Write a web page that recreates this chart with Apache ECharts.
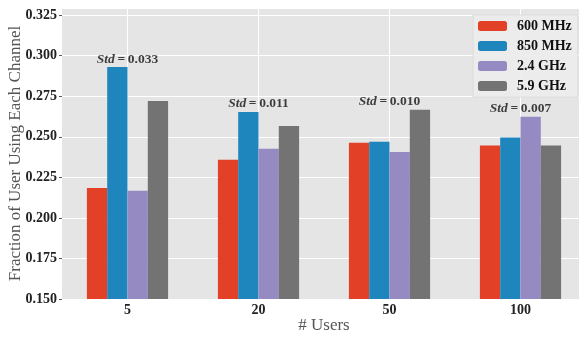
<!DOCTYPE html>
<html>
<head>
<meta charset="utf-8">
<script src="https://cdn.jsdelivr.net/npm/echarts@6/dist/echarts.min.js"></script>
<style>html,body{margin:0;padding:0;background:#fff}#c{width:579px;height:337px}</style>
</head>
<body>
<div id="c"></div>
<script>
var categories = ['5', '20', '50', '100'];
var seriesNames = ['600 MHz', '850 MHz', '2.4 GHz', '5.9 GHz'];
var s600 = [0.2185, 0.2358, 0.2464, 0.2446];
var s850 = [0.2930, 0.2653, 0.2470, 0.2495];
var s24 = [0.2167, 0.2426, 0.2407, 0.2624];
var s59 = [0.2721, 0.2567, 0.2666, 0.2446];
var stdValues = ['0.033', '0.011', '0.010', '0.007'];
var yTicksMin = 0.15, yTickStep = 0.025, yMax = 0.3294;

var colors = ['#E24027', '#1F86BD', '#968AC3', '#737373'];
var allSeries = [s600, s850, s24, s59];
var maxPerCat = categories.map(function (c, i) {
  return Math.max(s600[i], s850[i], s24[i], s59[i]);
});
var helperCats = [];
for (var k = 0; k <= categories.length * 2; k++) helperCats.push('h' + k);

var FONT = 'Liberation Serif';
var chart = echarts.init(document.getElementById('c'), null, {renderer: 'canvas'});
var series = allSeries.map(function (arr, i) {
  return {
    name: seriesNames[i], type: 'bar', data: arr, xAxisIndex: 0,
    barWidth: 20.3, barGap: '0%', itemStyle: {color: colors[i]}, z: 3
  };
});
series.push({
  type: 'scatter', xAxisIndex: 0, symbolSize: 0, silent: true, z: 5,
  data: maxPerCat.map(function (v, i) { return [categories[i], v]; }),
  label: {
    show: true, position: 'top', distance: 1,
    formatter: function (p) { return '{i|Std}{b|\u2009=\u2009' + stdValues[p.dataIndex] + '}'; },
    rich: {
      i: {fontFamily: FONT, fontStyle: 'italic', fontWeight: 'bold', fontSize: 13.5, color: '#111'},
      b: {fontFamily: FONT, fontWeight: 'bold', fontSize: 13.5, color: '#111'}
    }
  }
});
chart.setOption({
  animation: false,
  grid: {left: 62, top: 8, width: 524, height: 291, show: true, backgroundColor: '#e5e5e5', borderWidth: 0,
    containLabel: false, outerBoundsMode: 'none'},
  legend: {
    data: seriesNames, orient: 'vertical', left: 473, top: 15,
    padding: [4, 6, 4, 5], itemWidth: 29, itemHeight: 10, itemGap: 6,
    backgroundColor: 'rgba(236,236,236,0.9)', borderColor: '#dcdcdc', borderWidth: 1,
    textStyle: {fontFamily: FONT, fontWeight: 'bold', fontSize: 14, color: '#111', lineHeight: 14, padding: [0, 0, 0, 5]}
  },
  xAxis: [{
    type: 'category', data: categories,
    name: '# Users', nameLocation: 'middle', nameGap: 18, nameMoveOverlap: false,
    nameTextStyle: {fontFamily: FONT, fontSize: 17, color: '#555'},
    axisLine: {show: false}, axisTick: {show: false},
    axisLabel: {fontFamily: FONT, fontWeight: 'bold', fontSize: 14, color: '#222', margin: 4},
    splitLine: {show: false}
  }, {
    type: 'category', data: helperCats, boundaryGap: false, position: 'bottom',
    axisLine: {show: false}, axisTick: {show: false}, axisLabel: {show: false},
    splitLine: {show: true, interval: function (index) { return index % 2 === 1; }, lineStyle: {color: '#ffffff', width: 1}}
  }],
  yAxis: {
    type: 'value', min: yTicksMin, max: yMax, interval: yTickStep,
    name: 'Fraction of User Using Each Channel', nameLocation: 'middle', nameGap: 38, nameMoveOverlap: false,
    nameTextStyle: {fontFamily: FONT, fontSize: 17, color: '#555'},
    axisLine: {show: false},
    axisTick: {show: true, length: 3, lineStyle: {color: '#555'}},
    axisLabel: {fontFamily: FONT, fontWeight: 'bold', fontSize: 14, color: '#222', margin: 5, showMaxLabel: false,
      formatter: function (v) { return v.toFixed(3); }},
    splitLine: {show: true, lineStyle: {color: '#ffffff', width: 1}}
  },
  series: series
});
</script>
</body>
</html>
